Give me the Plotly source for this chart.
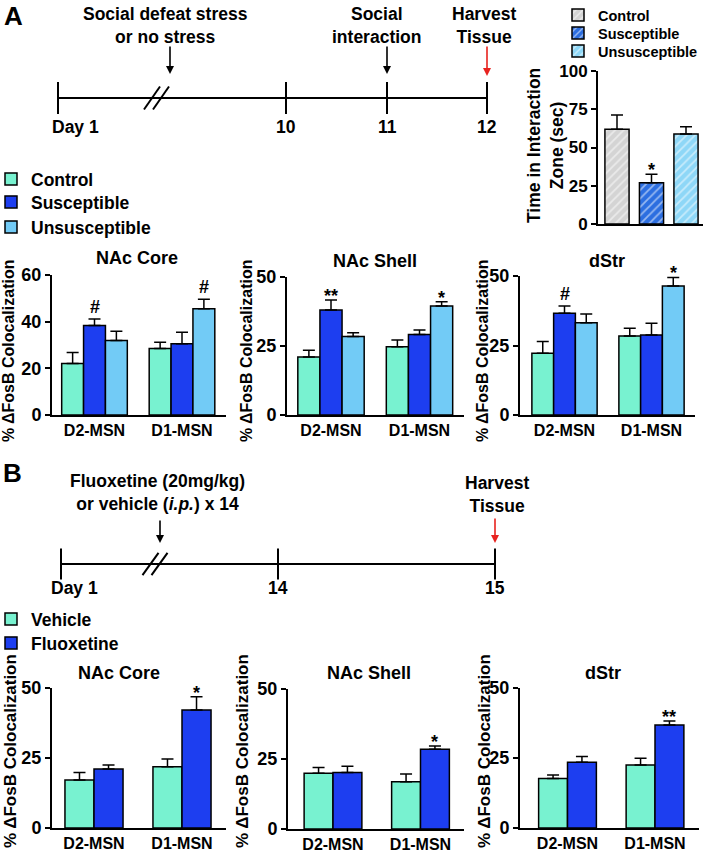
import plotly.graph_objects as go

W, H = 705, 853
FONT = "Liberation Sans, Arial, Helvetica, sans-serif"

# ---------------- data ----------------
cells = ["D2-MSN", "D1-MSN"]
groups_a = ["Control", "Susceptible", "Unsusceptible"]
groups_b = ["Vehicle", "Fluoxetine"]
colors_a = ["#78f2d0", "#1d3ef0", "#72cbf6"]
colors_b = ["#78f2d0", "#1d3ef0"]

# panel A (rows = groups, cols = cells)
a_core_mean = [[22.1, 28.5], [38.4, 30.5], [31.9, 45.5]]
a_core_sem = [[4.7, 2.7], [2.7, 5.0], [4.0, 4.1]]
a_core_sig = [["", ""], ["#", ""], ["", "#"]]

a_shell_mean = [[21.0, 24.7], [38.0, 29.2], [28.4, 39.5]]
a_shell_sem = [[2.5, 2.5], [3.7, 1.6], [1.4, 1.5]]
a_shell_sig = [["", ""], ["**", ""], ["", "*"]]

a_dstr_mean = [[22.2, 28.4], [36.6, 28.8], [33.2, 46.4]]
a_dstr_sem = [[4.2, 2.8], [2.6, 4.2], [3.1, 3.1]]
a_dstr_sig = [["", ""], ["#", ""], ["", "*"]]

# panel B
b_core_mean = [[17.1, 21.9], [21.1, 42.1]]
b_core_sem = [[2.7, 2.7], [1.4, 4.8]]
b_core_sig = [["", ""], ["", "*"]]

b_shell_mean = [[19.9, 16.9], [20.2, 28.5]]
b_shell_sem = [[2.1, 2.7], [2.2, 1.1]]
b_shell_sig = [["", ""], ["", "*"]]

b_dstr_mean = [[17.7, 22.5], [23.5, 36.8]]
b_dstr_sem = [[1.2, 2.4], [2.0, 1.4]]
b_dstr_sig = [["", ""], ["", "**"]]

# social interaction inset
si_groups = ["Control", "Susceptible", "Unsusceptible"]
si_mean = [61.9, 27.0, 58.8]
si_sem = [9.3, 5.5, 4.8]
si_sig = ["", "*", ""]
si_colors = ["#d4d4d4", "#2c6ee0", "#8ed7f7"]

# timelines (schematic positions)
tl_a_labels = ["Day 1", "10", "11", "12"]
tl_a_pos = [0, 2.28, 3.29, 4.29]
tl_a_break = 0.985
tl_a_events = ["Social defeat stress<br>or no stress", "Social<br>interaction", "Harvest<br>Tissue"]
tl_a_event_pos = [1.12, 3.29, 4.29]
tl_a_text_pos = [1.07, 3.18, 4.26]
tl_a_event_col = ["black", "black", "#e8231f"]

tl_b_labels = ["Day 1", "14", "15"]
tl_b_pos = [0, 2.17, 4.34]
tl_b_break = 0.94
tl_b_events = ["Fluoxetine (20mg/kg)<br>or vehicle (<i>i.p.</i>) x 14", "Harvest<br>Tissue"]
tl_b_event_pos = [0.99, 4.34]
tl_b_text_pos = [0.96, 4.36]
tl_b_event_col = ["black", "#e8231f"]

# ---------------- figure ----------------
fig = go.Figure()
layout = {}
ann = []


def bold(size):
    return dict(family=FONT, size=size, color="black", weight="bold")


def axname(k):
    return ("x" if k == 1 else f"x{k}"), ("y" if k == 1 else f"y{k}")


def axkey(k):
    return ("xaxis" if k == 1 else f"xaxis{k}"), ("yaxis" if k == 1 else f"yaxis{k}")


def paper_text(px, py, text, size, angle=0):
    return dict(x=px / W, y=1 - py / H, xref="paper", yref="paper", text=text,
                showarrow=False, xanchor="center", yanchor="middle", textangle=angle,
                font=bold(size))


# one legend box per group, so each entry sits where the reference has it
legend_common = dict(bgcolor="rgba(0,0,0,0)", borderwidth=0, tracegroupgap=0,
                     xanchor="left", yanchor="middle", itemclick=False, itemdoubleclick=False)
legend_of = {}
legend_specs = [
    (("A", "Control"), -9, 179, 17.5), (("A", "Susceptible"), -9, 202, 17.5),
    (("A", "Unsusceptible"), -9, 227, 17.5),
    (("B", "Vehicle"), -9, 619, 17.5), (("B", "Fluoxetine"), -9, 643, 17.5),
    (("S", "Control"), 558, 15, 14.5), (("S", "Susceptible"), 558, 33, 14.5),
    (("S", "Unsusceptible"), 558, 51, 14.5),
]
for i, (key, lx_, ly_, fs) in enumerate(legend_specs):
    name = "legend" if i == 0 else f"legend{i + 1}"
    legend_of[key] = name
    layout[name] = dict(x=lx_ / W, y=1 - ly_ / H, font=bold(fs), **legend_common)

panels = [
    dict(title="NAc Core", mean=a_core_mean, sem=a_core_sem, sig=a_core_sig, groups=groups_a,
         colors=colors_a, lg="A", axis=52, c0=94.5, sp=87.5, y0=415, ytop=275,
         ymax=60, dtick=20, w=0.25, tpos=(137, 258), ypos=(9, 351), ysize=16),
    dict(title="NAc Shell", mean=a_shell_mean, sem=a_shell_sem, sig=a_shell_sig, groups=groups_a,
         colors=colors_a, lg="A", axis=287, c0=331, sp=88.5, y0=415, ytop=277,
         ymax=50, dtick=25, w=0.25, tpos=(375, 261), ypos=(247, 351), ysize=16),
    dict(title="dStr", mean=a_dstr_mean, sem=a_dstr_sem, sig=a_dstr_sig, groups=groups_a,
         colors=colors_a, lg="A", axis=520, c0=564.5, sp=87, y0=415, ytop=276,
         ymax=50, dtick=25, w=0.25, tpos=(607, 261), ypos=(483, 351), ysize=16),
    dict(title="NAc Core", mean=b_core_mean, sem=b_core_sem, sig=b_core_sig, groups=groups_b,
         colors=colors_b, lg="B", axis=52, c0=94, sp=88, y0=828, ytop=688,
         ymax=50, dtick=25, w=0.33, tpos=(119, 673), ypos=(10, 751), ysize=17),
    dict(title="NAc Shell", mean=b_shell_mean, sem=b_shell_sem, sig=b_shell_sig, groups=groups_b,
         colors=colors_b, lg="B", axis=288, c0=333, sp=87.5, y0=829, ytop=689,
         ymax=50, dtick=25, w=0.33, tpos=(369, 673), ypos=(242, 751), ysize=17),
    dict(title="dStr", mean=b_dstr_mean, sem=b_dstr_sem, sig=b_dstr_sig, groups=groups_b,
         colors=colors_b, lg="B", axis=520, c0=567.5, sp=87.5, y0=828, ytop=688,
         ymax=50, dtick=25, w=0.33, tpos=(603, 673), ypos=(484, 751), ysize=17),
]

shown = set()
for k, p in enumerate(panels, start=1):
    xa, ya = axname(k)
    xk, yk = axkey(k)
    lo = -(p["c0"] - p["axis"]) / p["sp"]
    hi = len(cells) - 0.5
    right = p["axis"] + (hi - lo) * p["sp"]
    layout[xk] = dict(domain=[p["axis"] / W, right / W], range=[lo, hi], anchor=ya,
                      type="category", showline=True, linewidth=2, linecolor="black",
                      ticks="", showgrid=False, zeroline=False, tickfont=bold(16),
                      fixedrange=True)
    layout[yk] = dict(domain=[1 - p["y0"] / H, 1 - p["ytop"] / H], range=[0, p["ymax"]],
                      anchor=xa, showline=True, linewidth=2, linecolor="black",
                      ticks="outside", ticklen=5, tickwidth=2, tickcolor="black",
                      tickmode="linear", tick0=0, dtick=p["dtick"], showgrid=False,
                      zeroline=False, tickfont=bold(18), fixedrange=True)
    n = len(p["groups"])
    for j, g in enumerate(p["groups"]):
        off = -n * p["w"] / 2 + j * p["w"]
        key = (p["lg"], g)
        fig.add_bar(
            x=cells, y=p["mean"][j], width=p["w"], offset=off, name=g,
            marker=dict(color=p["colors"][j], line=dict(color="black", width=1.5)),
            error_y=dict(type="data", array=p["sem"][j], arrayminus=[0] * len(cells),
                         symmetric=False, color="black", thickness=1.5, width=6),
            xaxis=xa, yaxis=ya, legend=legend_of[key], showlegend=key not in shown,
        )
        shown.add(key)
        for c, s in enumerate(p["sig"][j]):
            if s:
                ann.append(dict(x=c + off + p["w"] / 2, y=p["mean"][j][c] + p["sem"][j][c],
                                xref=xa, yref=ya, text=s, showarrow=False, yanchor="bottom",
                                xanchor="center", yshift=-8 if "*" in s else 0,
                                font=bold(18)))
    ann.append(paper_text(p["tpos"][0], p["tpos"][1], p["title"], 18))
    ann.append(paper_text(p["ypos"][0], p["ypos"][1], "% \u0394FosB Colocalization",
                          p["ysize"], -90))

# ---- social interaction inset ----
k = 7
xa, ya = axname(k)
xk, yk = axkey(k)
axis_px, c0, sp = 598, 617, 34.5
lo = -(c0 - axis_px) / sp
hi = len(si_groups) - 0.5
right = axis_px + (hi - lo) * sp
layout[xk] = dict(domain=[axis_px / W, min(right / W, 1)], range=[lo, hi], anchor=ya,
                  type="category", showline=True, linewidth=2, linecolor="black",
                  ticks="", showticklabels=False, showgrid=False, zeroline=False,
                  fixedrange=True)
layout[yk] = dict(domain=[1 - 224 / H, 1 - 71 / H], range=[0, 100], anchor=xa,
                  showline=True, linewidth=2, linecolor="black", ticks="outside",
                  ticklen=5, tickwidth=2, tickcolor="black", tickmode="linear", tick0=0,
                  dtick=25, showgrid=False, zeroline=False, tickfont=bold(17),
                  fixedrange=True)
for j, g in enumerate(si_groups):
    fig.add_bar(
        x=[g], y=[si_mean[j]], width=0.7, offset=-0.35, name=g,
        marker=dict(color=si_colors[j], line=dict(color="black", width=1.5),
                    pattern=dict(shape="/", fgcolor="white", bgcolor=si_colors[j],
                                 size=6, solidity=0.3, fillmode="overlay")),
        error_y=dict(type="data", array=[si_sem[j]], arrayminus=[0], symmetric=False,
                     color="black", thickness=1.5, width=6),
        xaxis=xa, yaxis=ya, legend=legend_of[("S", g)], showlegend=True,
    )
    if si_sig[j]:
        ann.append(dict(x=j, y=si_mean[j] + si_sem[j], xref=xa, yref=ya, text=si_sig[j],
                        showarrow=False, yanchor="bottom", xanchor="center", yshift=-8,
                        font=bold(18)))
ann.append(paper_text(545, 146, "Time in Interaction<br>Zone (sec)", 17.5, -90))


# ---- timelines ----
def timeline(k, origin, line_px, uy, labels, pos, brk, events, ev_pos, txt_pos, ev_col,
             head_px, tail_px, text_px, label_px, day1_shift):
    xa, ya = axname(k)
    xk, yk = axkey(k)
    top_u, bot_u = 6.0, -3.0
    ux = 100  # pixels per schematic unit
    layout[xk] = dict(domain=[(origin - 0.5 * ux) / W, (origin + 4.5 * ux) / W],
                      range=[-0.5, 4.5], anchor=ya, visible=False, fixedrange=True)
    layout[yk] = dict(domain=[1 - (line_px - bot_u * uy) / H, 1 - (line_px - top_u * uy) / H],
                      range=[bot_u, top_u], anchor=xa, visible=False, fixedrange=True)
    lx, ly = [pos[0], pos[-1], None], [0, 0, None]
    for p_ in pos:
        lx += [p_, p_, None]
        ly += [-1, 1, None]
    for d in (-0.045, 0.045):
        lx += [brk + d - 0.08, brk + d + 0.08, None]
        ly += [-0.72, 0.72, None]
    fig.add_scatter(x=lx, y=ly, mode="lines", line=dict(color="black", width=2),
                    xaxis=xa, yaxis=ya, showlegend=False, hoverinfo="skip")
    for i, (lab, p_) in enumerate(zip(labels, pos)):
        ann.append(dict(x=p_, y=(line_px - label_px) / uy, xref=xa, yref=ya, text=lab,
                        showarrow=False, xanchor="center", yanchor="middle",
                        xshift=day1_shift if i == 0 else 0, font=bold(17.5)))
    for i, (ev, ep, tp, col) in enumerate(zip(events, ev_pos, txt_pos, ev_col)):
        ann.append(dict(x=ep, y=(line_px - head_px[i]) / uy, xref=xa, yref=ya, text="",
                        showarrow=True, ax=0, ay=-(head_px[i] - tail_px[i]), arrowhead=2,
                        arrowsize=1, arrowwidth=1.6, arrowcolor=col))
        ann.append(dict(x=tp, y=(line_px - text_px[i]) / uy, xref=xa, yref=ya, text=ev,
                        showarrow=False, xanchor="center", yanchor="middle",
                        font=bold(17.5)))


timeline(8, 58, 98, 16, tl_a_labels, tl_a_pos, tl_a_break, tl_a_events, tl_a_event_pos,
         tl_a_text_pos, tl_a_event_col, head_px=[74, 74, 76], tail_px=[45, 45, 45],
         text_px=[25.5, 25.5, 25.5], label_px=127, day1_shift=17)
timeline(9, 61, 564, 15.5, tl_b_labels, tl_b_pos, tl_b_break, tl_b_events, tl_b_event_pos,
         tl_b_text_pos, tl_b_event_col, head_px=[543, 543], tail_px=[519, 517],
         text_px=[492.5, 494], label_px=588, day1_shift=13)

# panel letters
ann.append(paper_text(13, 16, "A", 26))
ann.append(paper_text(12, 473, "B", 26))

fig.update_layout(
    width=W, height=H, margin=dict(l=0, r=0, t=0, b=0, autoexpand=False),
    paper_bgcolor="white", plot_bgcolor="white", annotations=ann, **layout,
)
fig.write_html("out.html", config={"displayModeBar": False},
               post_script="document.body.style.margin='0';")
